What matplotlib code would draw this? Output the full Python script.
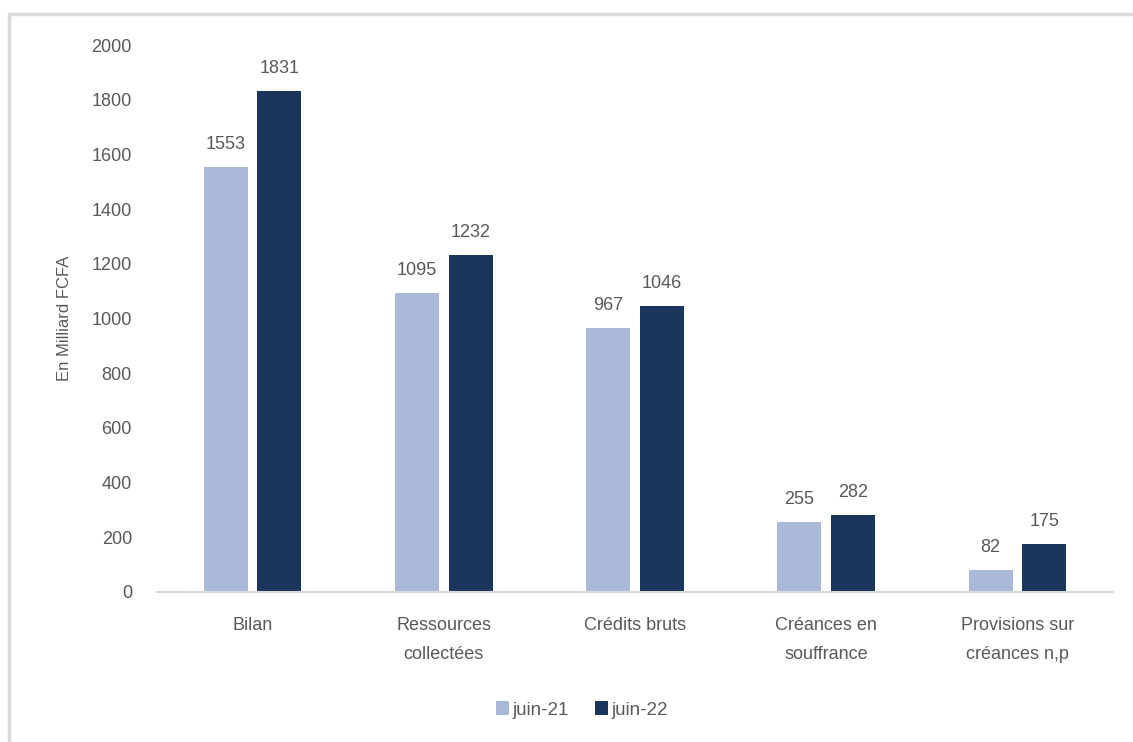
import matplotlib.pyplot as plt
import numpy as np
from matplotlib.patches import Rectangle

plt.rcParams['font.family'] = ['Liberation Sans', 'DejaVu Sans']

categories = ['Bilan', 'Ressources\ncollectées', 'Crédits bruts',
              'Créances en\nsouffrance', 'Provisions sur\ncréances n,p']
juin_21 = [1553, 1095, 967, 255, 82]
juin_22 = [1831, 1232, 1046, 282, 175]
series_names = ['juin-21', 'juin-22']

light = '#a9b9d7'
dark = '#1a365d'
grey_txt = '#595959'

fig = plt.figure(figsize=(11.33, 7.42), dpi=100)
ax = fig.add_axes([157 / 1133, 1 - 592 / 742, (1113 - 157) / 1133, (592 - 45) / 742])

x = np.arange(len(categories))
w = 0.23
off = 0.14
b1 = ax.bar(x - off, juin_21, w, color=light, label=series_names[0])
b2 = ax.bar(x + off, juin_22, w, color=dark, label=series_names[1])

for bars in (b1, b2):
    for rect in bars:
        v = rect.get_height()
        ax.annotate(f'{v:.0f}', (rect.get_x() + rect.get_width() / 2, v),
                    xytext=(0, 10), textcoords='offset points',
                    ha='center', va='bottom', fontsize=13, color=grey_txt)

ax.set_xlim(-0.5, len(categories) - 0.5)
ax.set_ylim(0, 2000)
ax.set_yticks(range(0, 2001, 200))
ax.set_xticks(x)
ax.set_xticklabels(categories, linespacing=1.95)
ax.tick_params(axis='both', length=0, labelsize=13, colors=grey_txt)
ax.tick_params(axis='x', pad=18)
ax.tick_params(axis='y', pad=18)
ax.set_ylabel('En Milliard FCFA', fontsize=12, color=grey_txt, labelpad=14)

for s in ['top', 'right', 'left']:
    ax.spines[s].set_visible(False)
ax.spines['bottom'].set_color('#d9d9d9')
ax.spines['bottom'].set_linewidth(1.5)

leg = fig.legend(loc='center', bbox_to_anchor=(582 / 1133, 1 - 710 / 742), ncol=2,
                 frameon=False, fontsize=13.5, handlelength=0.7, handleheight=0.7,
                 handletextpad=0.2, columnspacing=1.4)
for t in leg.get_texts():
    t.set_color(grey_txt)

# outer frame
fig.patches.append(Rectangle((9 / 1133, -0.1), 1.2, 1 - 14 / 742 + 0.1,
                             transform=fig.transFigure, fill=False,
                             edgecolor='#d9d9d9', linewidth=2.5))

fig.savefig('out.png', dpi=100)
